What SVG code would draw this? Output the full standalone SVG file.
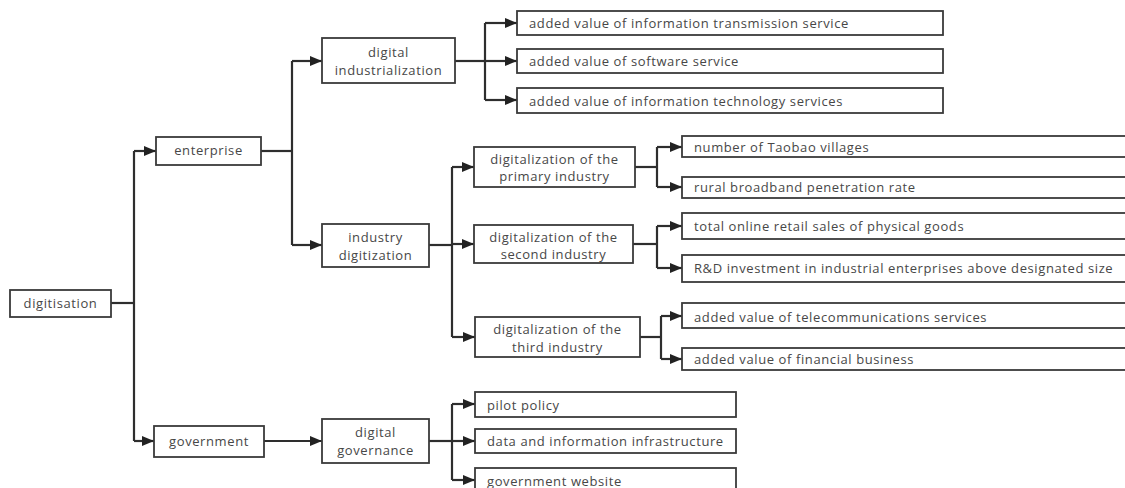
<svg xmlns="http://www.w3.org/2000/svg" width="1125" height="488" viewBox="0 0 1125 488">
<defs>
<style>
rect.b{fill:#fff;stroke:#3a3a3a;stroke-width:1.8}
text{font-family:"Open Sans","Noto Sans","DejaVu Sans",sans-serif;font-size:13px;letter-spacing:0.6px;fill:#474747}
text.c{text-anchor:middle}
.con path{fill:none;stroke:#2e2e2e;stroke-width:2.2}
</style>
<marker id="ah" viewBox="0 0 12 10" refX="12" refY="5" markerWidth="12" markerHeight="10" markerUnits="userSpaceOnUse" orient="auto">
<path d="M0,0 L12,5 L0,10 Z" fill="#222"/>
</marker>
</defs>
<rect width="1125" height="488" fill="#fff"/>
<g class="con">
<path d="M111,303 H134"/>
<path d="M134,151 V441"/>
<path d="M134,151 H156" marker-end="url(#ah)"/>
<path d="M134,441 H154" marker-end="url(#ah)"/>
<path d="M261,151 H292"/>
<path d="M292,61 V245"/>
<path d="M292,61 H322" marker-end="url(#ah)"/>
<path d="M292,245 H322" marker-end="url(#ah)"/>
<path d="M455,61 H485"/>
<path d="M485,23 V100"/>
<path d="M485,23 H517" marker-end="url(#ah)"/>
<path d="M485,61 H517" marker-end="url(#ah)"/>
<path d="M485,100 H517" marker-end="url(#ah)"/>
<path d="M429,245 H452"/>
<path d="M452,167 V337"/>
<path d="M452,167 H474" marker-end="url(#ah)"/>
<path d="M452,244 H474" marker-end="url(#ah)"/>
<path d="M452,337 H475" marker-end="url(#ah)"/>
<path d="M635,167 H657"/>
<path d="M657,147 V187"/>
<path d="M657,147 H682" marker-end="url(#ah)"/>
<path d="M657,187 H682" marker-end="url(#ah)"/>
<path d="M633,244 H657"/>
<path d="M657,226 V268"/>
<path d="M657,226 H682" marker-end="url(#ah)"/>
<path d="M657,268 H682" marker-end="url(#ah)"/>
<path d="M640,337 H661"/>
<path d="M661,316 V359"/>
<path d="M661,316 H682" marker-end="url(#ah)"/>
<path d="M661,359 H682" marker-end="url(#ah)"/>
<path d="M264,441 H322" marker-end="url(#ah)"/>
<path d="M429,441 H452"/>
<path d="M452,404 V480"/>
<path d="M452,404 H475" marker-end="url(#ah)"/>
<path d="M452,441 H475" marker-end="url(#ah)"/>
<path d="M452,480 H475" marker-end="url(#ah)"/>
</g>
<g id="digitisation"><rect class="b" x="10" y="290" width="101" height="27"/><text class="c" x="60.5" y="308">digitisation</text></g>
<g id="enterprise"><rect class="b" x="156" y="137" width="105" height="28"/><text class="c" x="208.5" y="155">enterprise</text></g>
<g id="government"><rect class="b" x="154" y="426" width="110" height="31"/><text class="c" x="209" y="446">government</text></g>
<g id="digital-industrialization"><rect class="b" x="322" y="38" width="133" height="45"/><text class="c" x="388.5" y="57">digital</text><text class="c" x="388.5" y="75">industrialization</text></g>
<g id="industry-digitization"><rect class="b" x="322" y="224" width="107" height="43"/><text class="c" x="375.5" y="242">industry</text><text class="c" x="375.5" y="260">digitization</text></g>
<g id="digital-governance"><rect class="b" x="322" y="419" width="107" height="44"/><text class="c" x="375.5" y="437">digital</text><text class="c" x="375.5" y="455">governance</text></g>
<g id="primary"><rect class="b" x="474" y="147" width="161" height="40"/><text class="c" x="554.5" y="164">digitalization of the</text><text class="c" x="554.5" y="181">primary industry</text></g>
<g id="second"><rect class="b" x="474" y="225" width="159" height="38"/><text class="c" x="553.5" y="242">digitalization of the</text><text class="c" x="553.5" y="259">second industry</text></g>
<g id="third"><rect class="b" x="475" y="317" width="165" height="40"/><text class="c" x="557.5" y="334">digitalization of the</text><text class="c" x="557.5" y="352">third industry</text></g>
<g id="leaf-transmission"><rect class="b" x="517" y="11" width="426" height="24"/><text x="529" y="28">added value of information transmission service</text></g>
<g id="leaf-software"><rect class="b" x="517" y="49" width="426" height="24"/><text x="529" y="66">added value of software service</text></g>
<g id="leaf-it"><rect class="b" x="517" y="88" width="426" height="25"/><text x="529" y="106">added value of information technology services</text></g>
<g id="leaf-taobao"><rect class="b" x="682" y="136" width="450" height="21"/><text x="694" y="152">number of Taobao villages</text></g>
<g id="leaf-broadband"><rect class="b" x="682" y="177" width="450" height="21"/><text x="694" y="192">rural broadband penetration rate</text></g>
<g id="leaf-retail"><rect class="b" x="682" y="213" width="450" height="26"/><text x="694" y="231">total online retail sales of physical goods</text></g>
<g id="leaf-rd"><rect class="b" x="682" y="255" width="450" height="27"/><text x="694" y="273">R&amp;D investment in industrial enterprises above designated size</text></g>
<g id="leaf-telecom"><rect class="b" x="682" y="303" width="450" height="25"/><text x="694" y="322">added value of telecommunications services</text></g>
<g id="leaf-financial"><rect class="b" x="682" y="348" width="450" height="22"/><text x="694" y="364">added value of financial business</text></g>
<g id="leaf-pilot"><rect class="b" x="475" y="392" width="261" height="25"/><text x="487" y="410">pilot policy</text></g>
<g id="leaf-data"><rect class="b" x="475" y="429" width="261" height="24"/><text x="487" y="446">data and information infrastructure</text></g>
<g id="leaf-website"><rect class="b" x="475" y="468" width="261" height="26"/><text x="487" y="486">government website</text></g>
</svg>
